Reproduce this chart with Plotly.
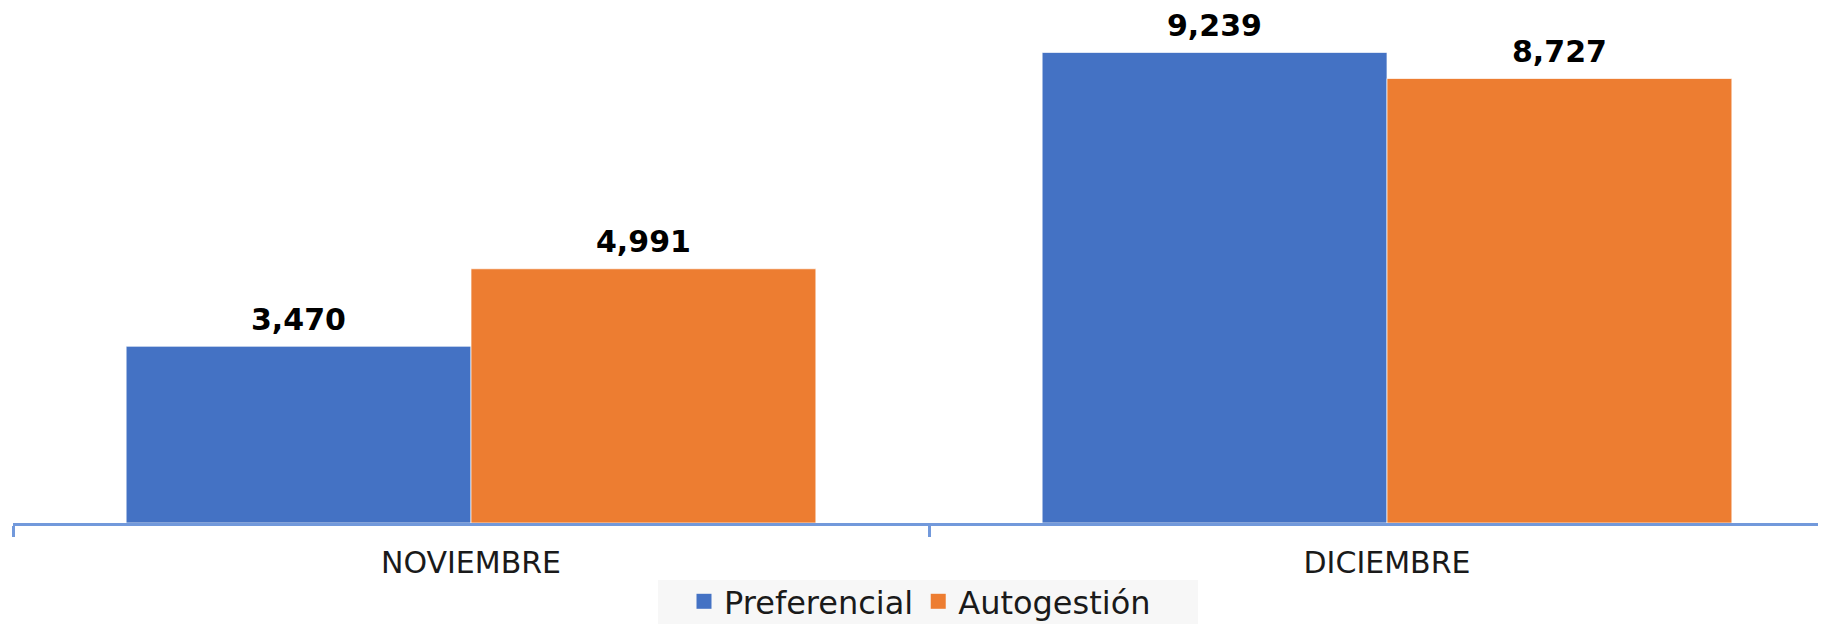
import plotly.graph_objects as go

categories = ["NOVIEMBRE", "DICIEMBRE"]
preferencial = [3470, 9239]
autogestion = [4991, 8727]
series_names = ["Preferencial", "Autogestión"]

BLUE = "#4472C4"
ORANGE = "#ED7D31"
AXIS = "#7299DB"
FONT = "DejaVu Sans"

# page offset of the figure (browser body margin)
OFF = 8
FIG_W, FIG_H = 1818, 616
ML, MB = 5, 101
PLOT_W = FIG_W - ML
PLOT_H = FIG_H - MB
CAT_PX = 916
Y_PX_PER_UNIT = 0.050935
BAR_PX = 345

fig = go.Figure()
for name, vals, col, sign in [(series_names[0], preferencial, BLUE, -1),
                              (series_names[1], autogestion, ORANGE, 1)]:
    fig.add_trace(go.Bar(
        name=name, x=categories, y=vals, showlegend=False, legendgroup=name,
        marker=dict(color=col, line=dict(color="rgba(255,255,255,0.7)", width=1)),
        cliponaxis=False,
    ))
    for c, v in zip(categories, vals):
        fig.add_annotation(
            x=c, y=v, xref="x", yref="y", text=f"{v:,}", showarrow=False,
            xshift=sign * BAR_PX / 2, yshift=27, yanchor="middle",
            font=dict(family=FONT, size=30, color="#000000", weight="bold"),
            borderpad=0,
        )

# legend entries with square swatches
for name, col in [(series_names[0], BLUE), (series_names[1], ORANGE)]:
    fig.add_trace(go.Scatter(
        name=name, x=[None], y=[None], mode="markers", legendgroup=name,
        marker=dict(symbol="square", size=15, color=col), showlegend=True,
    ))

def px_x(page_x):
    return (page_x - OFF - ML) / PLOT_W

def px_y(page_y):
    return (PLOT_H + OFF - page_y) / PLOT_H

fig.add_shape(type="rect", xref="paper", yref="paper",
              x0=px_x(658), x1=px_x(1198), y0=px_y(640), y1=px_y(580),
              fillcolor="#F7F7F7", line=dict(width=0), layer="below")

fig.update_layout(
    width=FIG_W, height=FIG_H,
    margin=dict(l=ML, r=0, t=0, b=MB, autoexpand=False),
    paper_bgcolor="white", plot_bgcolor="rgba(0,0,0,0)",
    barmode="group", bargap=0.247, bargroupgap=0,
    font=dict(family=FONT),
    xaxis=dict(
        range=[-0.5, -0.5 + PLOT_W / CAT_PX], showline=True, linecolor=AXIS, linewidth=3,
        ticks="outside", tickson="boundaries", ticklen=11, tickwidth=3, tickcolor=AXIS,
        tickfont=dict(family=FONT, size=30, color="#1a1a1a"), ticklabelstandoff=11,
        showgrid=False, zeroline=False, automargin=False,
    ),
    yaxis=dict(range=[0, PLOT_H / Y_PX_PER_UNIT], visible=False, showgrid=False),
    legend=dict(
        orientation="h", xref="container", yref="container",
        x=(920 - OFF) / FIG_W, xanchor="center", y=1 - (574 - OFF) / FIG_H, yanchor="top",
        bgcolor="rgba(0,0,0,0)", font=dict(family=FONT, size=32, color="#1a1a1a"),
        itemsizing="trace",
    ),
    showlegend=True,
)

fig.write_html("out.html")
